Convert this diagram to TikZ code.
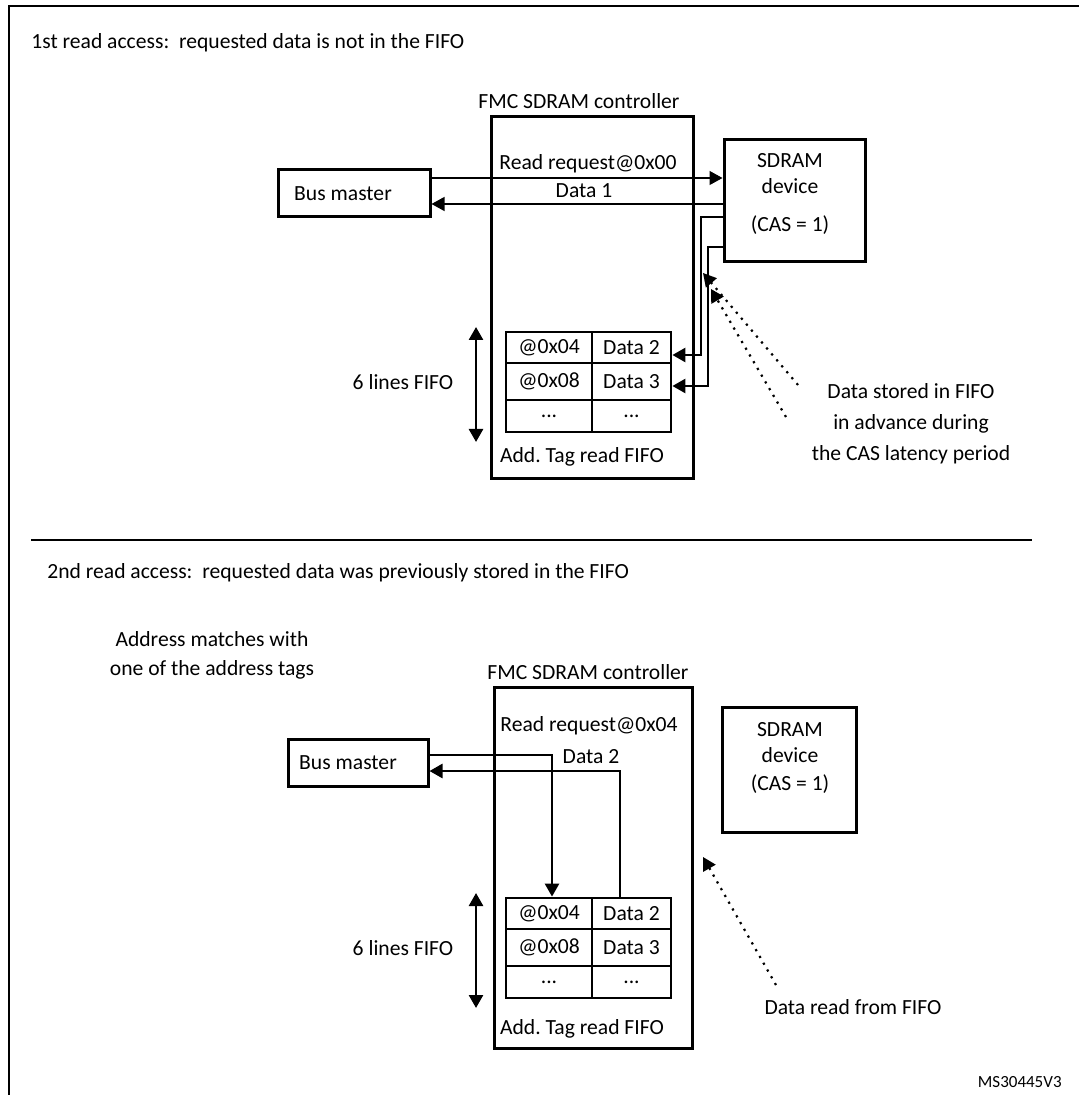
\documentclass[tikz,border=0pt]{standalone}
\usepackage{fontspec}
\setmainfont{Carlito}
\usetikzlibrary{arrows.meta}

\frenchspacing

\tikzset{
  box/.style={draw, line width=1.5pt, inner sep=0pt},
  txt/.style={font=\fontsize{10.8}{13}\selectfont, inner sep=0pt, align=center},
  cell/.style={draw, line width=1.4pt, inner sep=0pt, font=\fontsize{10.8}{13}\selectfont},
  thinline/.style={line width=0.6pt},
  thickline/.style={line width=1.3pt},
  tip/.style={-{Triangle[length=6.5pt,width=7pt]}},
  twotips/.style={{Triangle[length=6.5pt,width=7pt]}-{Triangle[length=6.5pt,width=7pt]}},
  dotline/.style={line width=1.1pt, dash pattern=on 1.1pt off 2.8pt}
}

\begin{document}
\begin{tikzpicture}[x=0.5pt,y=-0.5pt]

\useasboundingbox (0,0) rectangle (1079,1095);

% frame and divider
\draw[line width=1.3pt] (9,1095) -- (9,6) -- (1079,6);
\coordinate (divL) at (31,540);
\coordinate (divR) at (1032,540);
\draw[line width=1.2pt] (divL) -- (divR);

%%% 1st read access
\node[txt, anchor=west] (titleA) at (31,43) {1st read access:\ \ requested data is not in the FIFO};

\node[box, minimum width=101pt, minimum height=180.5pt] (ctrlA) at (592,297.5) {};
\node[txt] (ctrlAname) at (579,101) {FMC SDRAM controller};
\node[box, minimum width=76pt, minimum height=23.5pt] (busA) at (354,193.5) {};
\node[txt] (busAname) at (343,194) {Bus master};
\node[box, minimum width=70.5pt, minimum height=61pt] (sdramA) at (794.5,201) {};
\node[txt] (sdramAname) at (790,174) {SDRAM\\device};
\node[txt] (casA) at (790,225) {(CAS = 1)};

\coordinate (reqA) at (0,178);
\coordinate (datA) at (0,204);
\draw[thinline, tip] (busA.east |- reqA) -- (sdramA.west |- reqA);
\draw[thinline, tip] (sdramA.west |- datA) -- (busA.east |- datA);
\node[txt] (reqAlabel) at (588,164) {Read request@0x00};
\node[txt] (datAlabel) at (584,191) {Data 1};

% FIFO
\node[cell, minimum width=43pt, minimum height=15.5pt] (tagA1) at (549,347.5) {@0x04};
\node[cell, minimum width=39.5pt, minimum height=15.5pt] (datA1) at (631.5,347.5) {Data 2};
\node[cell, minimum width=43pt, minimum height=18.5pt] (tagA2) at (549,381.5) {@0x08};
\node[cell, minimum width=39.5pt, minimum height=18.5pt] (datA2) at (631.5,381.5) {Data 3};
\node[cell, minimum width=43pt, minimum height=16pt] (tagA3) at (549,416) {...};
\node[cell, minimum width=39.5pt, minimum height=16pt] (datA3) at (631.5,416) {...};
\node[txt] (tagAname) at (582,457) {Add. Tag read FIFO};

\coordinate (fifoAtop) at (476,327);
\coordinate (fifoAbot) at (476,442);
\draw[thickline, twotips] (fifoAtop) -- (fifoAbot);
\node[txt] (fifoAlabel) at (403,382) {6 lines FIFO};

% data from the SDRAM into the FIFO
\coordinate (turnA1) at (701,217);
\coordinate (turnA2) at (708,247);
\coordinate (rowA1) at (0,355);
\coordinate (rowA2) at (0,386);
\draw[thickline, tip] (sdramA.west |- turnA1) -- (turnA1) -- (turnA1 |- rowA1) -- (datA1.east |- rowA1);
\draw[thickline, tip] (sdramA.west |- turnA2) -- (turnA2) -- (turnA2 |- rowA2) -- (datA2.east |- rowA2);

\coordinate (dotA1) at (798,385);
\coordinate (hitA1) at (703,273);
\coordinate (dotA2) at (786,417);
\coordinate (hitA2) at (711,289);
\draw[dotline, tip] (dotA1) -- (hitA1);
\draw[dotline, tip] (dotA2) -- (hitA2);
\node[txt, font=\fontsize{10.8}{15.5}\selectfont] (noteA) at (911,424) {Data stored in FIFO\\in advance during\\the CAS latency period};

%%% 2nd read access
\node[txt, anchor=west] (titleB) at (47,573) {2nd read access:\ \ requested data was previously stored in the FIFO};
\node[txt, font=\fontsize{10.8}{14.5}\selectfont] (matchB) at (212,655) {Address matches with\\one of the address tags};

\node[box, minimum width=99pt, minimum height=180.5pt] (ctrlB) at (593,867.5) {};
\node[txt] (ctrlBname) at (588,672) {FMC SDRAM controller};
\node[box, minimum width=70pt, minimum height=23.5pt] (busB) at (358,762.5) {};
\node[txt] (busBname) at (348,763) {Bus master};
\node[box, minimum width=67pt, minimum height=62.5pt] (sdramB) at (789,769.5) {};
\node[txt] (sdramBname) at (790,743) {SDRAM\\device};
\node[txt] (casB) at (790,784) {(CAS = 1)};

\node[txt] (reqBlabel) at (589,726) {Read request@0x04};
\node[txt] (datBlabel) at (591,757) {Data 2};

% FIFO
\node[cell, minimum width=43pt, minimum height=15.5pt] (tagB1) at (549,913.5) {@0x04};
\node[cell, minimum width=39.5pt, minimum height=15.5pt] (datB1) at (631.5,913.5) {Data 2};
\node[cell, minimum width=43pt, minimum height=18.5pt] (tagB2) at (549,947.5) {@0x08};
\node[cell, minimum width=39.5pt, minimum height=18.5pt] (datB2) at (631.5,947.5) {Data 3};
\node[cell, minimum width=43pt, minimum height=16pt] (tagB3) at (549,982) {...};
\node[cell, minimum width=39.5pt, minimum height=16pt] (datB3) at (631.5,982) {...};
\node[txt] (tagBname) at (582,1029) {Add. Tag read FIFO};

\coordinate (fifoBtop) at (476,893);
\coordinate (fifoBbot) at (476,1008);
\draw[thickline, twotips] (fifoBtop) -- (fifoBbot);
\node[txt] (fifoBlabel) at (403,948) {6 lines FIFO};

% request served from the FIFO
\coordinate (reqB) at (552,755);
\coordinate (datB) at (620,771);
\draw[thickline, tip] (busB.east |- reqB) -- (reqB) -- (reqB |- tagB1.north);
\draw[thickline, tip] (datB |- datB1.north) -- (datB) -- (busB.east |- datB);

\coordinate (dotB) at (776,985);
\coordinate (hitB) at (703,857);
\draw[dotline, tip] (dotB) -- (hitB);
\node[txt] (noteB) at (853,1007) {Data read from FIFO};

\node[txt, anchor=east, font=\fontsize{8.5}{10}\selectfont] (refnum) at (1062,1082) {MS30445V3};

\end{tikzpicture}
\end{document}
